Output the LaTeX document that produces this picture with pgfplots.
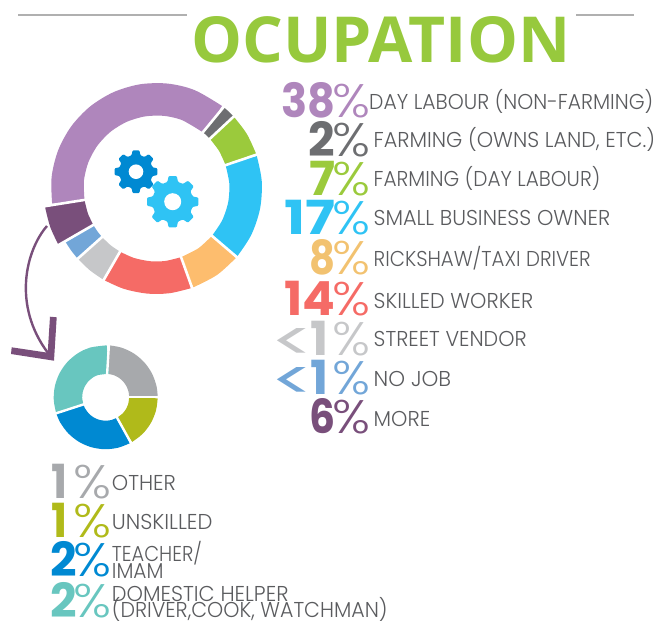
\documentclass[border=0pt]{standalone}
\usepackage{pgfplots}
\pgfplotsset{compat=1.18}
\usepgfplotslibrary{polar}
\usepackage{graphicx}
\usepackage{fontspec}
\setmainfont{Poppins}
\newfontfamily\lightf{Poppins Light}
\newfontfamily\titlef{Open Sans}

\definecolor{cPurple}{HTML}{AF86BC}
\definecolor{cGray}{HTML}{6D6E71}
\definecolor{cGreen}{HTML}{9BCA3C}
\definecolor{cBlue}{HTML}{2FC3F4}
\definecolor{cOrange}{HTML}{FDBD6E}
\definecolor{cOrangeT}{HTML}{F2C270}
\definecolor{cRed}{HTML}{F56B66}
\definecolor{cLtGray}{HTML}{C6C7C9}
\definecolor{cLtBlue}{HTML}{72A6D8}
\definecolor{cDark}{HTML}{794F7B}
\definecolor{cMid}{HTML}{A7A9AC}
\definecolor{cOlive}{HTML}{B0BA1A}
\definecolor{cDeep}{HTML}{0089D2}
\definecolor{cTeal}{HTML}{68C6BF}
\definecolor{cText}{HTML}{5A5B5E}
\definecolor{cTitle}{HTML}{97C93D}
\definecolor{cRule}{HTML}{B0B0B0}

\newcommand\bigf{\fontsize{47}{47}\selectfont}
\newcommand\perc{\resizebox{38pt}{\height}{\bigf\mdseries\lightf\%}}
% x right, baseline, digit width, gap, colour, number
\newcommand\pct[6]{\node[anchor=base east,inner sep=0pt,text=#5] at (#1,#2)
  {\resizebox{#3pt}{\height}{\bigf\bfseries #6}\hspace{#4pt}\perc};}
% same, with the wide thin "less than" in front
\newcommand\lessthan[3]{\node[anchor=base east,inner sep=0pt,text=#3] at (#1,#2)
  {\raisebox{-5pt}{\resizebox{45pt}{32pt}{\bigf\mdseries <}}\hspace{-5pt}%
   \resizebox{18pt}{\height}{\bigf\bfseries 1}\hspace{3.8pt}\perc};}
% x left, baseline, width, text
\newcommand\lbl[4]{\node[anchor=base west,inner sep=0pt,text=cText] at (#1,#2)
  {\resizebox{#3pt}{\height}{\fontsize{21.5}{22}\lightf #4}};}
% cx, cy, outer r, root r, hole r, colour
\newcommand\gear[6]{\begin{scope}[shift={(#1,#2)}]
  \fill[#6,rounded corners=1pt] (-15:#4)
    \foreach \a in {0,45,...,315} { -- (\a-15:#4) -- (\a-9:#3) -- (\a+9:#3) -- (\a+15:#4) } -- cycle;
  \fill[white] (0,0) circle (#5);
\end{scope}}

\pgfplotsset{donut/.style={hide axis,scale only axis,clip=false,anchor=center,
  ymin=0,xmin=0,xmax=360,x filter/.expression={90-x}}}

\begin{document}
\begin{tikzpicture}[x=1pt,y=-1pt]
\useasboundingbox (0,0) rectangle (666,624);

\begin{polaraxis}[donut,at={(156.5pt,-188.5pt)},width=240pt,height=240pt,ymax=120]
\addplot[cPurple,line width=32.5pt,smooth] coordinates {(261,89.25)(276,89.25)(291,89.25)(306,89.25)(321,89.25)(336,89.25)(351,89.25)(366,89.25)(381,89.25)(399.5,89.25)};
\addplot[cGray,line width=32.5pt,smooth] coordinates {(39.5,89.25)(43,89.25)(47,89.25)};
\addplot[cGreen,line width=32.5pt,smooth] coordinates {(47,89.25)(59,89.25)(71.3,89.25)};
\addplot[cBlue,line width=32.5pt,smooth] coordinates {(71.3,89.25)(86,89.25)(101,89.25)(116,89.25)(130.5,89.25)};
\addplot[cOrange,line width=32.5pt,smooth] coordinates {(130.5,89.25)(145,89.25)(160.3,89.25)};
\addplot[cRed,line width=32.5pt,smooth] coordinates {(160.3,89.25)(173,89.25)(185,89.25)(198,89.25)(210,89.25)};
\addplot[cLtGray,line width=32.5pt,smooth] coordinates {(210,89.25)(219,89.25)(228.3,89.25)};
\addplot[cLtBlue,line width=32.5pt,smooth] coordinates {(228.3,89.25)(234,89.25)(240,89.25)};
\addplot[cDark,line width=40pt,smooth] coordinates {(240,93)(250,93)(261,93)};
\pgfplotsinvokeforeach{39.5,47,71.3,130.5,160.3,210,228.3,240,261}{
  \addplot[white,line width=2.6pt] coordinates {(#1,60)(#1,118)};
}
\end{polaraxis}

\begin{polaraxis}[donut,at={(105.7pt,-397.2pt)},width=120pt,height=120pt,ymax=60]
\addplot[cMid,line width=28.5pt,smooth] coordinates {(3.5,37.75)(18,37.75)(33,37.75)(48,37.75)(63,37.75)(78,37.75)(90,37.75)};
\addplot[cOlive,line width=28.5pt,smooth] coordinates {(90,37.75)(105,37.75)(120,37.75)(135,37.75)(151,37.75)};
\addplot[cDeep,line width=28.5pt,smooth] coordinates {(151,37.75)(166,37.75)(181,37.75)(196,37.75)(211,37.75)(226,37.75)(241,37.75)(252,37.75)};
\addplot[cTeal,line width=28.5pt,smooth] coordinates {(252,37.75)(267,37.75)(282,37.75)(297,37.75)(312,37.75)(327,37.75)(342,37.75)(363.5,37.75)};
\pgfplotsinvokeforeach{3.5,90,151,252}{
  \addplot[white,line width=2.4pt] coordinates {(#1,18)(#1,56)};
}
\end{polaraxis}

% title and rules
\draw[cRule,line width=1.5pt] (18,15) -- (187,15);
\draw[cRule,line width=1.5pt] (576,15) -- (634,15);
\node[anchor=base west,inner sep=0pt,text=cTitle] at (191,62)
  {\resizebox{379pt}{46pt}{\titlef\bfseries OCUPATION}};

% gears
\gear{136}{171.7}{21.7}{17}{7.3}{cDeep}
\gear{172.7}{201.7}{26}{20.5}{8.5}{cBlue}

% arrow
\draw[cDark,line width=2.4pt] (47,226) .. controls (26,250) and (12,305) .. (48,353);
\fill[cDark] (11.7,347.3) -- (11,354) -- (54,360.7) -- (56.7,317.3) -- (50,316.7) -- (47.7,352.7) -- cycle;

% main legend
\pct{370.5}{117}{54}{-2.7}{cPurple}{38}
\pct{370.5}{156}{26.5}{-2.7}{cGray}{2}
\pct{370.5}{195.3}{26}{-2.7}{cGreen}{7}
\pct{370.5}{234.7}{51}{-2.7}{cBlue}{17}
\pct{370.5}{274.3}{26}{-2.7}{cOrangeT}{8}
\pct{370.5}{315.7}{51}{-2.7}{cRed}{14}
\lessthan{370.5}{355}{cLtGray}
\lessthan{370.5}{394}{cLtBlue}
\pct{370.5}{433}{26}{-2.7}{cDark}{6}

\lbl{369}{109.3}{284}{DAY LABOUR (NON-FARMING)}
\lbl{373.5}{147.7}{281.5}{FARMING (OWNS LAND, ETC.)}
\lbl{373.5}{186.7}{226.5}{FARMING (DAY LABOUR)}
\lbl{373.5}{225.7}{236.5}{SMALL BUSINESS OWNER}
\lbl{373.5}{266}{217}{RICKSHAW/TAXI DRIVER}
\lbl{373.5}{308}{159.5}{SKILLED WORKER}
\lbl{373.5}{346.7}{153}{STREET VENDOR}
\lbl{373.5}{386}{77.5}{NO JOB}
\lbl{373.5}{426}{56.5}{MORE}

% small legend
\pct{112}{498.3}{16}{6}{cMid}{1}
\pct{112}{537.7}{16}{6}{cOlive}{1}
\pct{112}{576.7}{26.5}{-3.5}{cDeep}{2}
\pct{112}{617.7}{26.5}{-3.5}{cTeal}{2}

\lbl{111.7}{490}{64}{OTHER}
\lbl{111.7}{529}{100.6}{UNSKILLED}
\lbl{111.7}{561}{90}{TEACHER/}
\lbl{111.7}{578.3}{51.6}{IMAM}
\lbl{111.7}{601.7}{176.6}{DOMESTIC HELPER}
\lbl{111.7}{617.7}{275.6}{(DRIVER,COOK, WATCHMAN)}
\end{tikzpicture}
\end{document}
